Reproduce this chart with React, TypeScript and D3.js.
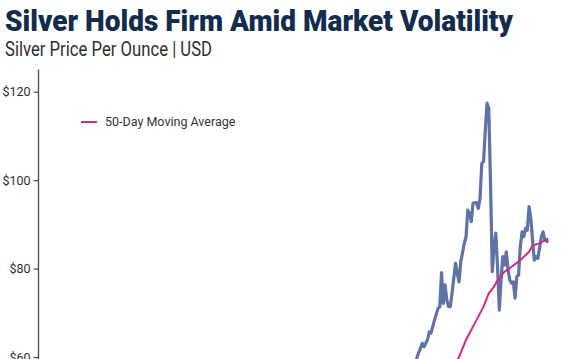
import { useEffect, useRef } from 'react';
import * as d3 from 'd3';

// trading-day index (0 = first session shown) and closing price
const priceDay = [
  0, 20, 40, 60, 70, 80, 100, 110, 130, 140, 150, 165, 175, 185, 195, 198, 205, 212, 214,
  216, 219, 220, 222, 223, 224, 226, 228, 229, 230, 231, 232, 233, 234, 235, 236, 238, 239,
  240, 241, 243, 244, 245, 246, 247, 248, 250, 251, 252, 253, 254, 255, 256, 257, 258, 259,
  260, 261, 262, 263, 264, 265, 266, 267, 268, 269, 270, 271, 272, 273, 274, 275, 276, 277,
  278, 279, 280, 281, 282, 283, 284, 285, 286, 287, 288, 289, 291,
];
const priceValue = [
  30, 32, 33, 32.5, 30, 33, 33.5, 36, 37, 38.5, 37, 38.5, 42, 46, 51, 53.5, 48, 51, 56,
  60.0, 63.1, 62.3, 63.9, 65.7, 65.4, 68.4, 71.0, 71.4, 79.1, 72.1, 76.3, 72.9, 71.4, 71.4, 74.4, 81.2, 78.9,
  77.0, 81.6, 85.7, 87.2, 93.2, 92.5, 90.6, 94.8, 94.9, 93.6, 95.9, 103.8, 104.2, 111.3, 117.4, 116.2, 99.0, 79.3,
  85.0, 88.0, 80.4, 70.6, 77.4, 82.7, 80.8, 83.8, 79.7, 77.4, 76.7, 77.0, 73.3, 78.2, 78.5, 85.0, 88.3, 87.2,
  89.1, 88.7, 94.0, 91.4, 86.5, 81.9, 82.7, 82.3, 84.6, 87.2, 88.3, 86.5, 86.0,
];

const maDay = [50, 100, 150, 200, 230, 240, 244, 250, 254, 257, 260, 262, 266, 270, 275, 280, 282, 286, 291];
const maValue = [33, 36, 40, 48, 53, 60.0, 63.9, 68.4, 71.4, 74.4, 75.9, 77.4, 79.3, 80.4, 81.9, 83.8, 85.2, 85.7, 86.8];

// only the ticks that fall inside the visible frame
const yTicks = [60, 80, 100, 120];

const title = 'Silver Holds Firm Amid Market Volatility';
const subtitle = 'Silver Price Per Ounce | USD';
const legendLabel = '50-Day Moving Average';

const W = 571;
const H = 359;

export default function App() {
  const ref = useRef<SVGSVGElement>(null);

  useEffect(() => {
    const svg = d3.select(ref.current);
    svg.selectAll('*').remove();

    const x = d3.scaleLinear().domain([0, 291]).range([39, 548.3]);
    // chart continues below the visible frame
    const y = d3.scaleLinear().domain([0, 120]).range([622.3, 91.7]);

    svg.append('text')
      .attr('x', 5).attr('y', 30.5)
      .attr('font-family', 'Roboto, sans-serif')
      .attr('font-weight', 900)
      .attr('font-size', 30)
      .attr('fill', '#132b4d')
      .attr('textLength', 508)
      .attr('lengthAdjust', 'spacingAndGlyphs')
      .text(title);

    svg.append('text')
      .attr('x', 5).attr('y', 56)
      .attr('font-family', 'Roboto, sans-serif')
      .attr('font-size', 20)
      .attr('fill', '#2e2e2e')
      .attr('textLength', 207)
      .attr('lengthAdjust', 'spacingAndGlyphs')
      .text(subtitle);

    const gy = svg.append('g').attr('transform', 'translate(38.5,0)');
    gy.call(
      d3.axisLeft(y)
        .tickValues(yTicks)
        .tickSize(5)
        .tickPadding(3)
        .tickFormat(d => `$${d}`)
    );
    gy.select('.domain').remove();
    gy.append('line')
      .attr('x1', 0).attr('x2', 0)
      .attr('y1', y(125)).attr('y2', y(0))
      .attr('stroke', '#4a4a4a').attr('stroke-width', 1.3);
    gy.selectAll('.tick line').attr('stroke', '#4a4a4a').attr('stroke-width', 1.2);
    gy.selectAll('.tick text')
      .attr('font-family', 'Roboto, sans-serif')
      .attr('font-size', 12.5)
      .attr('fill', '#2e2e2e');

    const priceData: [number, number][] = priceDay.map((d, i) => [d, priceValue[i]]);
    const maData: [number, number][] = maDay.map((d, i) => [d, maValue[i]]);

    const line = d3.line<[number, number]>()
      .x(d => x(d[0]))
      .y(d => y(d[1]));

    svg.append('path')
      .datum(priceData)
      .attr('d', line)
      .attr('fill', 'none')
      .attr('stroke', '#5f73a8')
      .attr('stroke-width', 3.2)
      .attr('stroke-linejoin', 'round');

    svg.append('path')
      .datum(maData)
      .attr('d', line)
      .attr('fill', 'none')
      .attr('stroke', '#d42a84')
      .attr('stroke-width', 2);

    const lg = svg.append('g').attr('transform', 'translate(81,122)');
    lg.append('line')
      .attr('x1', 0).attr('x2', 16)
      .attr('stroke', '#d42a84').attr('stroke-width', 2);
    lg.append('text')
      .attr('x', 24).attr('dy', '0.35em')
      .attr('font-family', 'Roboto, sans-serif')
      .attr('font-size', 12.5)
      .attr('fill', '#333')
      .text(legendLabel);
  }, []);

  return (
    <svg
      ref={ref}
      width={W}
      height={H}
      style={{ position: 'absolute', left: 0, top: 0, background: '#fff' }}
    />
  );
}
